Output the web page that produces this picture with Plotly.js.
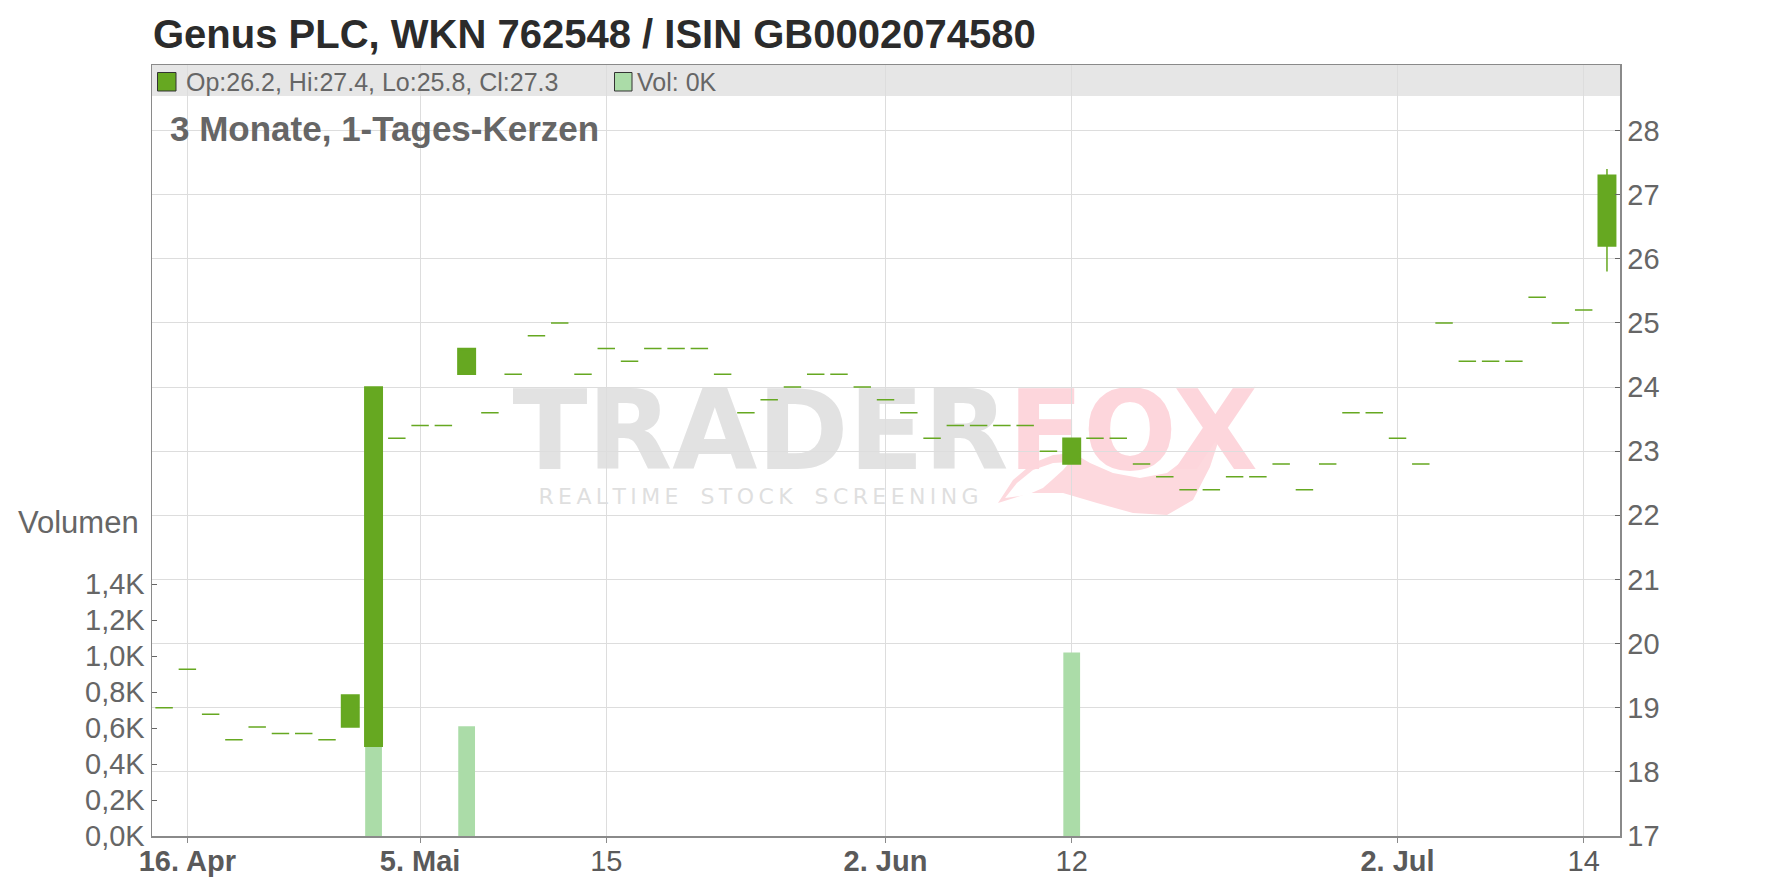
<!DOCTYPE html>
<html><head><meta charset="utf-8">
<script src="https://cdn.plot.ly/plotly-3.0.1.min.js"></script>
<style>html,body{margin:0;padding:0;background:#fff;}#chart{width:1776px;height:888px;}</style>
</head><body><div id="chart"></div>
<script>
const dates = ['2025-04-15','2025-04-16','2025-04-17','2025-04-22','2025-04-23','2025-04-24','2025-04-25','2025-04-28','2025-04-29','2025-04-30',
'2025-05-02','2025-05-05','2025-05-06','2025-05-07','2025-05-08','2025-05-09','2025-05-12','2025-05-13','2025-05-14','2025-05-15','2025-05-16','2025-05-19','2025-05-20','2025-05-21','2025-05-22','2025-05-23','2025-05-26','2025-05-27','2025-05-28','2025-05-29','2025-05-30',
'2025-06-02','2025-06-03','2025-06-04','2025-06-05','2025-06-06','2025-06-09','2025-06-10','2025-06-11','2025-06-12','2025-06-13','2025-06-16','2025-06-17','2025-06-18','2025-06-19','2025-06-20','2025-06-23','2025-06-24','2025-06-25','2025-06-26','2025-06-27','2025-06-30',
'2025-07-01','2025-07-02','2025-07-03','2025-07-04','2025-07-07','2025-07-08','2025-07-09','2025-07-10','2025-07-11','2025-07-14','2025-07-15'];
const opens = [19.0,19.6,18.9,18.5,18.7,18.6,18.6,18.5,18.7,18.4,
23.2,23.4,23.4,24.2,23.6,24.2,24.8,25.0,24.2,24.6,24.4,24.6,24.6,24.6,24.2,23.6,23.8,24.0,24.2,24.2,24.0,
23.8,23.6,23.2,23.4,23.4,23.4,23.4,23.0,22.8,23.2,23.2,22.8,22.6,22.4,22.4,22.6,22.6,22.8,22.4,22.8,23.6,
23.6,23.2,22.8,25.0,24.4,24.4,24.4,25.4,25.0,25.2,26.2];
const highs = [19.0,19.6,18.9,18.5,18.7,18.6,18.6,18.5,19.2,24.0,
23.2,23.4,23.4,24.6,23.6,24.2,24.8,25.0,24.2,24.6,24.4,24.6,24.6,24.6,24.2,23.6,23.8,24.0,24.2,24.2,24.0,
23.8,23.6,23.2,23.4,23.4,23.4,23.4,23.0,23.2,23.2,23.2,22.8,22.6,22.4,22.4,22.6,22.6,22.8,22.4,22.8,23.6,
23.6,23.2,22.8,25.0,24.4,24.4,24.4,25.4,25.0,25.2,27.4];
const lows = [19.0,19.6,18.9,18.5,18.7,18.6,18.6,18.5,18.7,18.4,
23.2,23.4,23.4,24.2,23.6,24.2,24.8,25.0,24.2,24.6,24.4,24.6,24.6,24.6,24.2,23.6,23.8,24.0,24.2,24.2,24.0,
23.8,23.6,23.2,23.4,23.4,23.4,23.4,23.0,22.8,23.2,23.2,22.8,22.6,22.4,22.4,22.6,22.6,22.8,22.4,22.8,23.6,
23.6,23.2,22.8,25.0,24.4,24.4,24.4,25.4,25.0,25.2,25.8];
const closes = [19.0,19.6,18.9,18.5,18.7,18.6,18.6,18.5,19.2,24.0,
23.2,23.4,23.4,24.6,23.6,24.2,24.8,25.0,24.2,24.6,24.4,24.6,24.6,24.6,24.2,23.6,23.8,24.0,24.2,24.2,24.0,
23.8,23.6,23.2,23.4,23.4,23.4,23.4,23.0,23.2,23.2,23.2,22.8,22.6,22.4,22.4,22.6,22.6,22.8,22.4,22.8,23.6,
23.6,23.2,22.8,25.0,24.4,24.4,24.4,25.4,25.0,25.2,27.3];
const volumes = [0,0,0,0,0,0,0,0,0,800,
0,0,0,610,0,0,0,0,0,0,0,0,0,0,0,0,0,0,0,0,0,
0,0,0,0,0,0,0,0,1020,0,0,0,0,0,0,0,0,0,0,0,0,
0,0,0,0,0,0,0,0,0,0,0];
const tickDates = ['2025-04-16','2025-05-05','2025-05-15','2025-06-02','2025-06-12','2025-07-02','2025-07-14'];
const tickLabels = ['<b>16. Apr</b>','<b>5. Mai</b>','15','<b>2. Jun</b>','12','<b>2. Jul</b>','14'];
const volTicks = [0,200,400,600,800,1000,1200,1400];
const priceTicks = [17,18,19,20,21,22,23,24,25,26,27,28];

const G = '#66a821';
const VG = '#abdca8';
const FONT = 'Liberation Sans, Arial, sans-serif';
const WM = 'DejaVu Sans, sans-serif';
const W = 1776, H = 888, L = 152, R = 156, T = 65, B = 52;
const PW = W - L - R, PH = H - T - B;
const px = x => (x - L) / PW;
const py = y => (H - B - y) / PH;

const n = dates.length - 1;
const legendText = 'Op:' + opens[n].toFixed(1) + ', Hi:' + highs[n].toFixed(1) + ', Lo:' + lows[n].toFixed(1) + ', Cl:' + closes[n].toFixed(1);
const volText = 'Vol: ' + (volumes[n] / 1000).toFixed(0) + 'K';

const traces = [
  {type:'bar', x:dates, y:volumes, xaxis:'x', yaxis:'y', marker:{color:VG, line:{width:0}}, hoverinfo:'skip', showlegend:false},
  {type:'candlestick', x:dates, open:opens, high:highs, low:lows, close:closes, xaxis:'x', yaxis:'y2',
   increasing:{line:{color:G, width:1.5}, fillcolor:G}, decreasing:{line:{color:G, width:1.5}, fillcolor:G},
   whiskerwidth:0, hoverinfo:'skip', showlegend:false}
];

// decorative watermark outline (pixel points -> paper)
const toPath = pts => 'M' + pts.map(p => px(p[0]).toFixed(4) + ',' + py(p[1]).toFixed(4)).join(' L') + ' Z';
const swoosh = [[998,503],[1013,480],[1033,463],[1053,455],[1073,453],[1090,463],[1113,473],[1140,478],[1167,473],[1193,453],[1213,427],[1233,400],[1257,385],
 [1240,397],[1223,427],[1210,467],[1193,500],[1167,515],[1133,513],[1097,503],[1063,493],[1030,493]];
const swooshInner = [[1005,498],[1017,483],[1033,470],[1053,463],[1070,462],[1063,470],[1052,480],[1043,488],[1027,495]];

const sp = '\u2009';
const wmSub = ['REALTIME','STOCK','SCREENING'].map(w => w.split('').join(sp)).join('\u2003');

const layout = {
  width:W, height:H, autosize:false,
  margin:{l:L, r:R, t:T, b:B, pad:0},
  paper_bgcolor:'#fff', plot_bgcolor:'#fff',
  font:{family:FONT, color:'#666'},
  bargap:0.28, boxgap:0.25, boxgroupgap:0,
  title:{text:'Genus PLC, WKN 762548 / ISIN GB0002074580', font:{family:FONT, size:40, weight:'bold', color:'#2b2b2b'},
    xref:'container', x:153/W, xanchor:'left', yref:'container', y:1-34/H, yanchor:'middle'},
  xaxis:{type:'category', range:[-0.52, 62.56], tickvals:tickDates, ticktext:tickLabels,
    showgrid:true, gridcolor:'#dddddd', gridwidth:1, showline:true, linecolor:'#8a8a8a', linewidth:1.5, mirror:true,
    ticks:'outside', ticklen:5, tickcolor:'#8a8a8a', ticklabelstandoff:-6, tickfont:{family:FONT, size:29, color:'#5a5a5a'},
    rangeslider:{visible:false}, fixedrange:true},
  yaxis:{range:[0, PH/180*1000], tickvals:volTicks,
    ticktext:volTicks.map(v => (v/1000).toFixed(1).replace('.', ',') + 'K'),
    showgrid:false, zeroline:false, showline:true, linecolor:'#8a8a8a', linewidth:1.5,
    ticks:'inside', ticklen:5, tickcolor:'#666', tickfont:{family:FONT, size:29, color:'#666'}, side:'left', fixedrange:true},
  yaxis2:{overlaying:'y', side:'right', range:[17, 17 + PH/64.14], tickvals:priceTicks,
    showgrid:true, gridcolor:'#dddddd', gridwidth:1, zeroline:false, showline:true, linecolor:'#8a8a8a', linewidth:1.5,
    ticks:'inside', ticklen:5, tickcolor:'#666', tickfont:{family:FONT, size:29, color:'#666'}, fixedrange:true},
  shapes:[
    {type:'rect', xref:'paper', yref:'paper', x0:0, x1:1, y0:py(96), y1:1, fillcolor:'#e6e6e6', line:{width:0}, layer:'below'},
    {type:'path', xref:'paper', yref:'paper', path:toPath(swoosh), fillcolor:'#fdd9de', line:{width:0}, layer:'below'},
    {type:'path', xref:'paper', yref:'paper', path:toPath(swooshInner), fillcolor:'#ffffff', line:{width:0}, layer:'below'},
    {type:'rect', xref:'paper', yref:'paper', x0:px(510), x1:px(1011), y0:py(465), y1:py(380), fillcolor:'rgba(0,0,0,0)', line:{width:0}, layer:'below',
      label:{text:'TRADER', textposition:'middle center', font:{family:WM, size:110, weight:'bold', color:'#e2e2e2'}}},
    {type:'rect', xref:'paper', yref:'paper', x0:px(1012), x1:px(1254), y0:py(465), y1:py(380), fillcolor:'rgba(0,0,0,0)', line:{width:0}, layer:'below',
      label:{text:'FOX', textposition:'middle center', font:{family:WM, size:110, weight:'bold', color:'#fdd6dc'}}},
    {type:'rect', xref:'paper', yref:'paper', x0:px(538), x1:px(979), y0:py(506), y1:py(482), fillcolor:'rgba(0,0,0,0)', line:{width:0}, layer:'below',
      label:{text:wmSub, textposition:'middle center', font:{family:WM, size:22, color:'#dfdfdf'}}},
    {type:'rect', xref:'paper', yref:'paper', x0:px(157.5), x1:px(176), y0:py(91), y1:py(72.5), fillcolor:G, line:{width:1, color:'#333'}, layer:'above'},
    {type:'rect', xref:'paper', yref:'paper', x0:px(614.5), x1:px(632), y0:py(91), y1:py(72.5), fillcolor:VG, line:{width:1, color:'#333'}, layer:'above'}
  ],
  annotations:[
    {xref:'paper', yref:'paper', x:px(184), y:py(82), xanchor:'left', yanchor:'middle', showarrow:false, text:legendText, font:{family:FONT, size:25, color:'#666'}},
    {xref:'paper', yref:'paper', x:px(635), y:py(82), xanchor:'left', yanchor:'middle', showarrow:false, text:volText, font:{family:FONT, size:25, color:'#666'}},
    {xref:'paper', yref:'paper', x:px(168), y:py(128), xanchor:'left', yanchor:'middle', showarrow:false, text:'<b>3 Monate, 1-Tages-Kerzen</b>', font:{family:FONT, size:35, color:'#666'}},
    {xref:'paper', yref:'paper', x:px(16), y:py(522), xanchor:'left', yanchor:'middle', showarrow:false, text:'Volumen', font:{family:FONT, size:31, color:'#666'}}
  ]
};
Plotly.newPlot('chart', traces, layout, {displayModeBar:false, staticPlot:true});
</script></body></html>
